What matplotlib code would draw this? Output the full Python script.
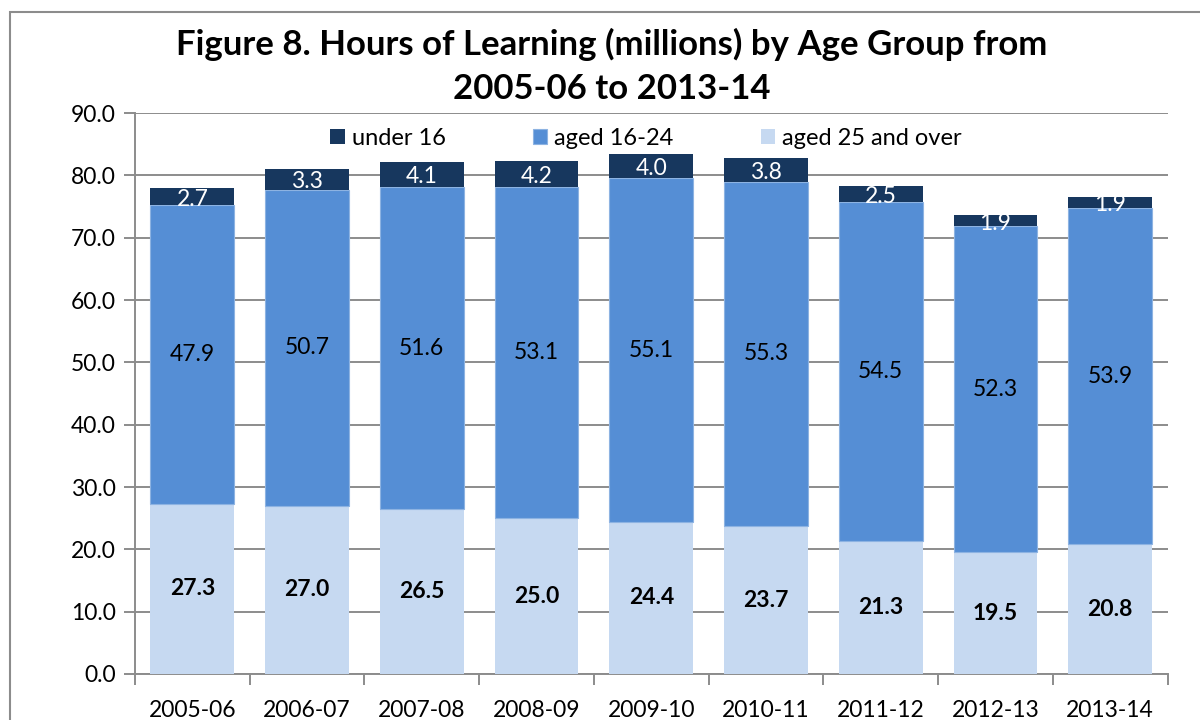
import numpy as np
import matplotlib.pyplot as plt
from matplotlib.patches import Rectangle

plt.rcParams['font.family'] = ['Lato', 'DejaVu Sans']

years = ['2005-06', '2006-07', '2007-08', '2008-09', '2009-10',
         '2010-11', '2011-12', '2012-13', '2013-14']
aged25 = [27.3, 27.0, 26.5, 25.0, 24.4, 23.7, 21.3, 19.5, 20.8]
aged16 = [47.9, 50.7, 51.6, 53.1, 55.1, 55.3, 54.5, 52.3, 53.9]
under16 = [2.7, 3.3, 4.1, 4.2, 4.0, 3.8, 2.5, 1.9, 1.9]

cLight = '#c6d9f1'
cMid = '#558ed5'
cDark = '#17375e'
gridCol = '#8c8c8c'

fig = plt.figure(figsize=(12, 7.2), dpi=100)
ax = fig.add_axes([0.1125, 0.0639, 0.8605, 0.7791])

x = np.arange(len(years))
w = 0.73
a25 = np.array(aged25)
a16 = np.array(aged16)
u16 = np.array(under16)

b1 = ax.bar(x, a25, w, color=cLight, label='aged 25 and over', zorder=3)
b2 = ax.bar(x, a16, w, bottom=a25, color=cMid, label='aged 16-24', zorder=3,
            edgecolor='#8db3e2', linewidth=0.8)
b3 = ax.bar(x, u16, w, bottom=a25 + a16, color=cDark, label='under 16', zorder=3)

# value labels
for i in range(len(years)):
    ax.text(x[i], a25[i] / 2, f'{a25[i]:.1f}', ha='center', va='center',
            fontsize=16.5, fontweight='bold', color='black', zorder=4)
    ax.text(x[i], a25[i] + a16[i] / 2, f'{a16[i]:.1f}', ha='center', va='center',
            fontsize=16.5, color='black', zorder=4)
    ax.text(x[i], a25[i] + a16[i] + u16[i] / 2 - 0.4, f'{u16[i]:.1f}', ha='center',
            va='center', fontsize=16.5, color='white', zorder=4)

ax.set_ylim(0, 90)
ax.set_xlim(-0.5, len(years) - 0.5)
ax.set_yticks(np.arange(0, 91, 10))
ax.set_yticklabels([f'{v:.1f}' for v in np.arange(0, 91, 10)])
ax.yaxis.grid(True, color=gridCol, linewidth=1.4, zorder=0)
ax.set_axisbelow(True)

ax.set_xticks(x)
ax.set_xticklabels(years)
ax.set_xticks(np.arange(-0.5, len(years), 1), minor=True)
ax.tick_params(axis='x', which='major', length=0, pad=19, labelsize=16.5)
ax.tick_params(axis='x', which='minor', length=8, width=1.4, color=gridCol)
ax.tick_params(axis='y', length=8, width=1.4, color=gridCol, labelsize=16.5, pad=6)

for s in ['top', 'right']:
    ax.spines[s].set_visible(False)
for s in ['left', 'bottom']:
    ax.spines[s].set_color(gridCol)
    ax.spines[s].set_linewidth(1.4)

ax.legend(handles=[b3, b2, b1], labels=['under 16', 'aged 16-24', 'aged 25 and over'],
          loc='center', bbox_to_anchor=(0.495, 0.955), ncol=3, frameon=False,
          fontsize=17, handlelength=0.6, handleheight=0.6, handletextpad=0.3,
          columnspacing=3.7, borderpad=0)

fig.text(0.51, 0.938, 'Figure 8. Hours of Learning (millions) by Age Group from',
         ha='center', va='center', fontsize=25, fontweight='bold')
fig.text(0.51, 0.877, '2005-06 to 2013-14', ha='center', va='center',
         fontsize=25, fontweight='bold')

fig.patches.append(Rectangle((10 / 1200, -0.1), 1.2, 1 - 12 / 720 + 0.1,
                             transform=fig.transFigure, fill=False,
                             edgecolor='#8c8c8c', linewidth=1.5))

fig.savefig('out.png', dpi=100)
